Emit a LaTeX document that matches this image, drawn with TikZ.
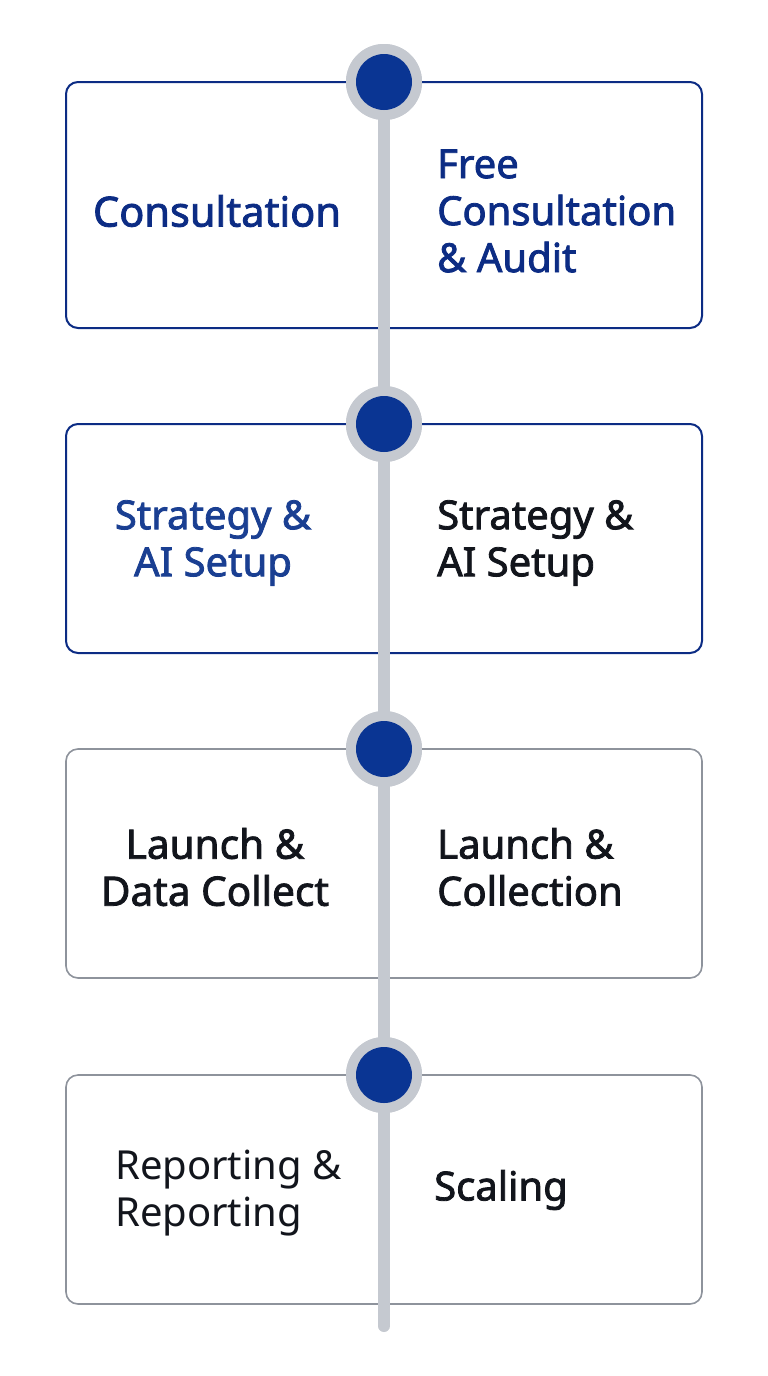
\documentclass[tikz,border=0pt]{standalone}
\usepackage{fontspec}
\newfontfamily\medfont[FakeBold=2]{Noto Sans}
\newfontfamily\regfont{Noto Sans}
\definecolor{navy}{HTML}{0C2C84}
\definecolor{blueB}{HTML}{1A3F92}
\definecolor{dotblue}{HTML}{0A3593}
\definecolor{ringgray}{HTML}{C5C9D0}
\definecolor{boxgray}{HTML}{8E939C}
\definecolor{ink}{HTML}{12151C}
\begin{document}
\begin{tikzpicture}[x=1pt,y=-1pt,
  stepcard/.style={draw, line width=2pt, rounded corners=12pt, fill=white},
  navycard/.style={stepcard, draw=navy},
  graycard/.style={stepcard, draw=boxgray, line width=1.6pt},
  lbl/.style={inner sep=0pt, font=\medfont\fontsize{40}{47}\selectfont, align=center},
  lblL/.style={inner sep=0pt, font=\medfont\fontsize{40}{47}\selectfont, align=left, anchor=west},
  ring/.style={circle, fill=ringgray, minimum size=76pt, inner sep=0pt},
  dot/.style={circle, fill=dotblue, minimum size=56pt, inner sep=0pt}
]
\useasboundingbox (0,0) rectangle (768,1376);
\fill[white] (0,0) rectangle (768,1376);

% cards
\draw[navycard] (66,82) rectangle (702,328);
\draw[navycard] (66,424) rectangle (702,653);
\draw[graycard] (66,749) rectangle (702,978);
\draw[graycard] (66,1075) rectangle (702,1304);

% timeline
\coordinate (tend) at (384,1326);
\node[ring] (r1) at (384,82) {};
\node[ring] (r2) at (384,424) {};
\node[ring] (r3) at (384,749) {};
\node[ring] (r4) at (384,1075) {};
\draw[ringgray, line width=12pt, line cap=round] (r1.center) -- (tend);
\node[ring] at (r1) {};
\node[ring] at (r2) {};
\node[ring] at (r3) {};
\node[ring] at (r4) {};
\node[dot] (d1) at (r1) {};
\node[dot] (d2) at (r2) {};
\node[dot] (d3) at (r3) {};
\node[dot] (d4) at (r4) {};

% texts
\node[lbl, text=navy, font=\medfont\fontsize{41.5}{47}\selectfont] (t1l) at (217,211) {Consultation};
\node[lblL, text=navy] (t1r) at (437,211) {Free\\Consultation\\\& Audit};
\node[lbl, text=blueB] (t2l) at (213,543) {Strategy \&\\AI Setup};
\node[lblL, text=ink] (t2r) at (437,543) {Strategy \&\\AI Setup};
\node[lbl, text=ink, font=\medfont\fontsize{40.5}{47}\selectfont] (t3l) at (215,867) {Launch \&\\Data Collect};
\node[lblL, text=ink] (t3r) at (437,867) {Launch \&\\Collection};
\node[lblL, text=ink, font=\regfont\fontsize{40}{47}\selectfont] (t4l) at (115,1193) {Reporting \&\\Reporting};
\node[lblL, text=ink] (t4r) at (434,1190) {Scaling};
\end{tikzpicture}
\end{document}
